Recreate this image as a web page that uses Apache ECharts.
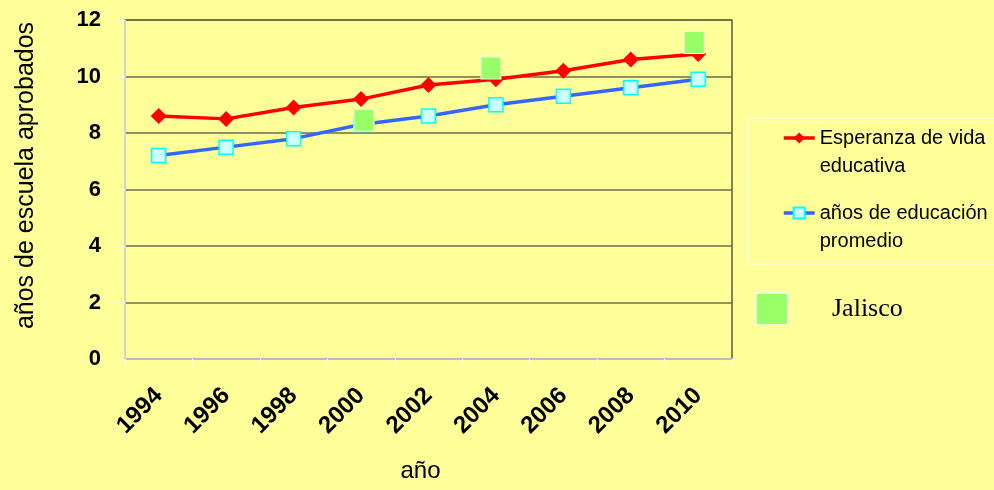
<!DOCTYPE html>
<html>
<head>
<meta charset="utf-8">
<script src="https://cdn.jsdelivr.net/npm/echarts@6/dist/echarts.min.js"></script>
<style>
html,body{margin:0;padding:0;background:#FFFF99;}
#c{width:994px;height:490px;}
</style>
</head>
<body>
<div id="c"></div>
<script>
var years = ['1994','1996','1998','2000','2002','2004','2006','2008','2010'];
var esperanza = [8.6, 8.5, 8.9, 9.2, 9.7, 9.9, 10.2, 10.6, 10.8];
var promedio = [7.2, 7.5, 7.8, 8.3, 8.6, 9.0, 9.3, 9.6, 9.9];
var jalisco = [null, null, null, 8.45, null, 10.3, null, null, 11.2];
var yTicks = [0, 2, 4, 6, 8, 10, 12];

var FONT = 'Liberation Sans, Arial, sans-serif';
var jaliscoOffsets = [0, 0, 0, 3, 0, -5, 0, 0, -4];
var jaliscoData = jalisco.map(function (v, i) {
  return v == null ? null : { value: v, symbolOffset: [jaliscoOffsets[i], 0] };
});

var chart = echarts.init(document.getElementById('c'), null, { renderer: 'canvas' });
var option = {
  backgroundColor: '#FFFF99',
  animation: false,
  grid: {
    left: 125, right: 262, top: 20, bottom: 131,
    show: true, borderColor: '#5a5a40', borderWidth: 1.5, backgroundColor: 'transparent'
  },
  xAxis: {
    type: 'category',
    data: years,
    boundaryGap: true,
    name: 'año',
    nameLocation: 'middle',
    nameGap: 100,
    nameTextStyle: { fontFamily: FONT, fontSize: 24, color: '#000', padding: [0, 16, 0, 0] },
    axisLine: { show: true, lineStyle: { color: '#bbbbbb', width: 2 } },
    axisTick: { show: true, inside: false, length: 6, lineStyle: { color: '#ffffff', width: 1 } },
    axisLabel: { rotate: 45, margin: 33, fontFamily: FONT, fontSize: 24, fontWeight: 'bold', color: '#000' },
    splitLine: { show: false }
  },
  yAxis: {
    type: 'value',
    min: yTicks[0], max: yTicks[yTicks.length - 1], interval: 2,
    name: 'años de escuela aprobados',
    nameLocation: 'middle',
    nameGap: 86,
    nameRotate: 90,
    nameTextStyle: { fontFamily: FONT, fontSize: 25, color: '#000', padding: [0, 0, 0, 28] },
    axisLine: { show: true, lineStyle: { color: '#eeeeee', width: 1.5 } },
    axisTick: { show: true, length: 6, lineStyle: { color: '#ffffff' } },
    axisLabel: { margin: 24, fontFamily: FONT, fontSize: 22, fontWeight: 'bold', color: '#000' },
    splitLine: { show: true, lineStyle: { color: '#6b6b4f', width: 1.5 } }
  },
  graphic: [
    { type: 'rect', left: 745.5, top: 115.5, shape: { width: 260, height: 146 },
      style: { fill: 'none', stroke: '#ffffff', lineWidth: 1 }, z: 1 }
  ],
  legend: [
    {
      data: ['Esperanza de vida educativa'],
      left: 782, top: 96, padding: 0,
      itemWidth: 31, itemHeight: 14,
      lineStyle: { width: 3.5 },
      formatter: function () { return ' \nEsperanza de vida\neducativa'; },
      textStyle: { fontFamily: FONT, fontSize: 20, color: '#000', lineHeight: 28 }
    },
    {
      data: ['años de educación promedio'],
      left: 782, top: 171, padding: 0,
      itemWidth: 31, itemHeight: 14,
      lineStyle: { width: 3.5 },
      formatter: function () { return ' \naños de educación\npromedio'; },
      textStyle: { fontFamily: FONT, fontSize: 20, color: '#000', lineHeight: 28 }
    },
    {
      data: ['Jalisco'],
      left: 755, top: 292, padding: 0,
      itemWidth: 32, itemHeight: 32,
      icon: 'rect',
      formatter: function (n) { return '      ' + n; },
      textStyle: { fontFamily: 'Liberation Serif, DejaVu Serif, serif', fontSize: 26, color: '#000' }
    }
  ],
  series: [
    {
      name: 'Esperanza de vida educativa',
      type: 'line',
      data: esperanza,
      symbol: 'diamond',
      symbolSize: 16,
      lineStyle: { color: '#ff0000', width: 3.5 },
      itemStyle: { color: '#ff0000' },
      z: 3
    },
    {
      name: 'años de educación promedio',
      type: 'line',
      data: promedio,
      symbol: 'rect',
      symbolSize: 14,
      lineStyle: { color: '#3366ff', width: 3.5 },
      itemStyle: { color: '#ccffff', borderColor: '#00ffff', borderWidth: 1.5 },
      z: 3
    },
    {
      name: 'Jalisco',
      type: 'scatter',
      data: jaliscoData,
      symbol: 'rect',
      symbolSize: [20, 22],
      itemStyle: { color: '#99ff66', borderColor: '#eeffdd', borderWidth: 1, opacity: 1 },
      z: 4
    }
  ]
};
chart.setOption(option);
</script>
</body>
</html>
